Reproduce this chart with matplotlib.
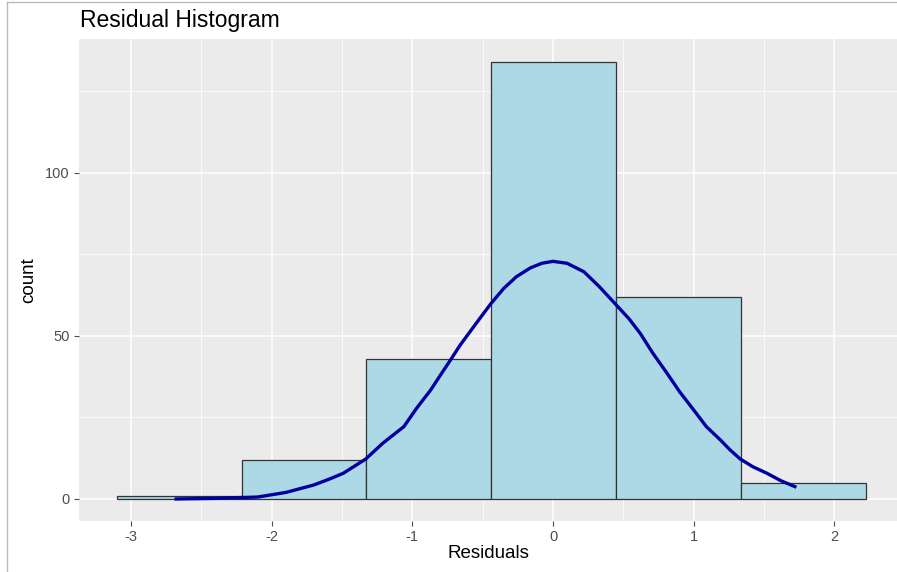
import matplotlib
matplotlib.use("Agg")
import matplotlib.pyplot as plt
from matplotlib.lines import Line2D
import numpy as np

# ===== DATA =====
bin_edges = [-3.10, -2.213, -1.326, -0.439, 0.448, 1.335, 2.222]
bin_counts = [1, 12, 43, 134, 62, 5]

curve_x = [-2.69, -2.40, -2.10, -1.90, -1.70, -1.59, -1.49, -1.33, -1.21,
           -1.06, -0.97, -0.87, -0.80, -0.72, -0.66, -0.59, -0.52, -0.44,
           -0.35, -0.26, -0.16, -0.08, 0.00, 0.10, 0.22, 0.33, 0.45, 0.54,
           0.62, 0.71, 0.81, 0.90, 1.00, 1.09, 1.19, 1.26, 1.33, 1.42, 1.52,
           1.62, 1.73]
curve_y = [0.0, 0.2, 0.6, 2.0, 4.3, 6.1, 7.9, 12.3, 17.1,
           22.2, 27.8, 33.4, 38.0, 43.2, 47.2, 51.3, 55.4, 60.0,
           64.6, 68.2, 70.9, 72.3, 72.9, 72.3, 69.7, 65.1, 59.5, 55.3,
           50.8, 44.7, 38.6, 32.9, 27.3, 22.2, 18.1, 15.0, 12.3, 9.9, 7.9,
           5.6, 3.6]

x_ticks = [-3, -2, -1, 0, 1, 2]
x_minor = [-2.5, -1.5, -0.5, 0.5, 1.5]
y_ticks = [0, 50, 100]
y_minor = [25, 75, 125]

# ===== PLOT =====
plt.rcParams["font.family"] = ["Liberation Sans", "DejaVu Sans"]

fig = plt.figure(figsize=(8.97, 5.72), dpi=100)
ax = fig.add_axes([79 / 897, 1 - 521 / 572, 1 - 79 / 897, (521 - 39) / 572])
ax.set_facecolor("#EBEBEB")

# grid, ggplot2 style
for v in x_ticks:
    ax.axvline(v, color="white", lw=1.1, zorder=0)
for v in x_minor:
    ax.axvline(v, color="white", lw=0.55, zorder=0)
for v in y_ticks:
    ax.axhline(v, color="white", lw=1.1, zorder=0)
for v in y_minor:
    ax.axhline(v, color="white", lw=0.55, zorder=0)

widths = np.diff(bin_edges)
ax.bar(bin_edges[:-1], bin_counts, width=widths, align="edge",
       color="#ADD8E6", edgecolor="#333333", linewidth=0.9, zorder=2)
ax.plot(curve_x, curve_y, color="#0000A0", lw=2.4, zorder=3,
        solid_capstyle="butt", solid_joinstyle="round")

ax.set_xlim(-3.369, 2.445)
ax.set_ylim(-6.75, 141.1)
ax.set_xticks(x_ticks)
ax.set_xticklabels([str(v) for v in x_ticks])
ax.set_yticks(y_ticks)
for s in ax.spines.values():
    s.set_visible(False)
ax.tick_params(axis="both", colors="#4D4D4D", labelsize=10.5, length=3.5,
               width=0.8, pad=3)

ax.set_xlabel("Residuals", fontsize=13.5, color="black", labelpad=1)
ax.set_ylabel("count", fontsize=13.5, color="black", labelpad=6)

fig.text(80 / 897, 1 - 20 / 572, "Residual Histogram", fontsize=16.5,
         color="black", ha="left", va="center")

# screenshot border
fig.add_artist(Line2D([7 / 897, 7 / 897], [0, 1 - 2 / 572],
                      transform=fig.transFigure, color="#BBBBBB", lw=1))
fig.add_artist(Line2D([7 / 897, 1], [1 - 2 / 572, 1 - 2 / 572],
                      transform=fig.transFigure, color="#BBBBBB", lw=1))

fig.savefig("out.png", dpi=100)
